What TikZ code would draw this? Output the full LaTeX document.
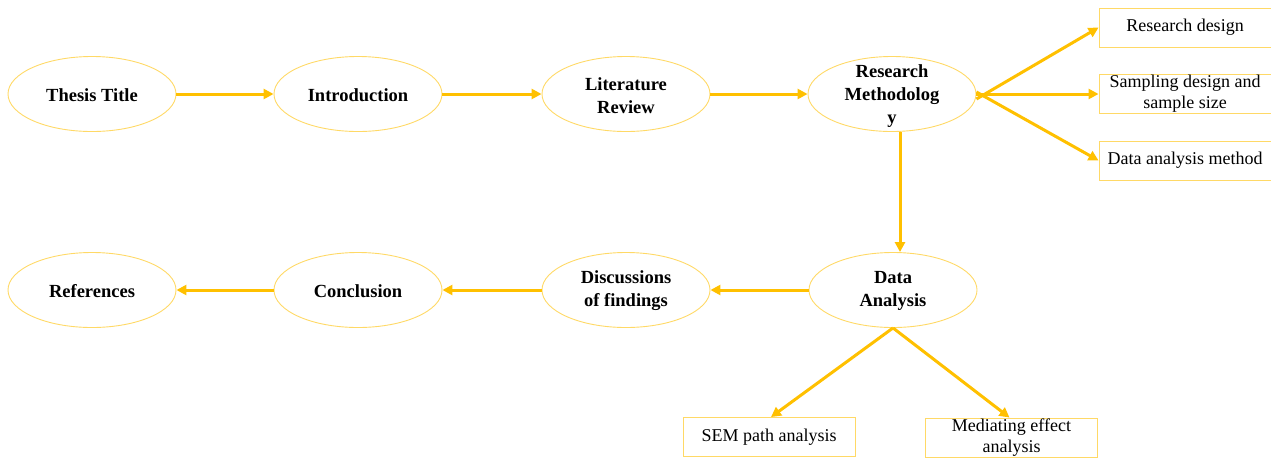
\documentclass[tikz,border=0pt]{standalone}
\usepackage{fontspec}
\setmainfont{Liberation Serif}
\usetikzlibrary{shapes.geometric,arrows.meta}
\definecolor{gold}{HTML}{FFC000}
\definecolor{lgold}{HTML}{FFD966}
\tikzset{
  ell/.style={ellipse, draw=lgold, line width=0.9pt, minimum width=168pt, minimum height=75pt, inner sep=0pt},
  lbl/.style={align=center, font=\fontsize{18.5}{23}\selectfont\bfseries, inner sep=0pt, text=black},
  boxn/.style={rectangle, draw=lgold, line width=0.9pt, minimum width=172pt, minimum height=39pt, inner sep=0pt, align=center, font=\fontsize{18}{21}\selectfont},
  arr/.style={draw=gold, line width=3pt, -{Triangle[length=10pt,width=10pt]}, shorten >=0pt}
}
\begin{document}
\begin{tikzpicture}[x=1pt,y=-1pt]
\useasboundingbox (0,0) rectangle (1271,459);
% ellipses
\node[ell] (tt) at (92,94) {};
\node[ell] (in) at (358,94) {};
\node[ell] (lr) at (626,94) {};
\node[ell] (rm) at (892,94) {};
\node[ell] (da) at (893,290) {};
\node[ell] (dis) at (626,290) {};
\node[ell] (con) at (358,290) {};
\node[ell] (ref) at (92,290) {};
% labels
\node[lbl] (ttl) at (92,95) {Thesis Title};
\node[lbl] (inl) at (358,95) {Introduction};
\node[lbl] (lrl) at (626,96) {Literature\\Review};
\node[lbl] (rml) at (892,96) {Research\\Methodolog\\y};
\node[lbl] (dal) at (893,291) {Data\\Analysis};
\node[lbl] (disl) at (626,291) {Discussions\\of findings};
\node[lbl] (conl) at (358,291) {Conclusion};
\node[lbl] (refl) at (92,291) {References};
% boxes
\node[boxn] (rd) at (1185,27.5) {\raisebox{-1.5pt}{Research design}};
\node[boxn] (sd) at (1185,94) {Sampling design and\\sample size};
\node[boxn] (dm) at (1185,160.5) {\raisebox{-1.5pt}{Data analysis method}};
\node[boxn] (sem) at (769,437) {\raisebox{-1.5pt}{SEM path analysis}};
\node[boxn] (med) at (1011.5,437.5) {Mediating effect\\analysis};
% connectors
\draw[arr] ([yshift=-5pt]rm.east) -- (rd.west);
\draw[arr] (tt.east) -- (in.west);
\draw[arr] (in.east) -- (lr.west);
\draw[arr] (lr.east) -- (rm.west);
\draw[arr] (rm.east) -- (sd.west);
\draw[arr] ([yshift=2pt]rm.east) -- (dm.west);
\coordinate (vx) at (900,0);
\draw[arr] ([yshift=-0.5pt]rm.south -| vx) -- (da.north -| vx);
\draw[arr] (da.west) -- (dis.east);
\draw[arr] (dis.west) -- (con.east);
\draw[arr] (con.west) -- (ref.east);
\draw[arr] (da.south) -- ([xshift=2pt]sem.north);
\draw[arr] (da.south) -- ([xshift=-2pt]med.north);
\end{tikzpicture}
\end{document}
